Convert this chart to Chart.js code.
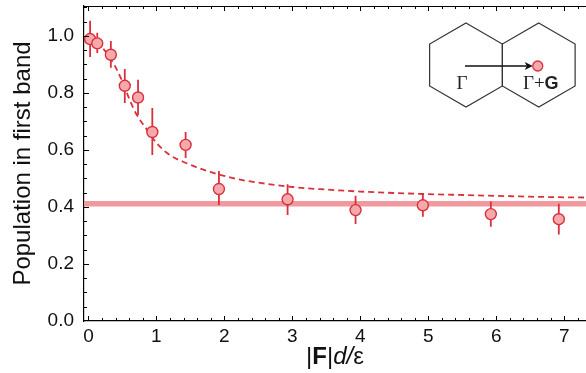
<!DOCTYPE html>
<html>
<head>
<meta charset="utf-8">
<script src="https://cdn.jsdelivr.net/npm/chart.js@4.4.0/dist/chart.umd.min.js"></script>
<style>
  html, body { margin: 0; padding: 0; background: #fff; }
  #wrap { width: 586px; height: 373px; }
</style>
</head>
<body>
<div id="wrap"><canvas id="bandChart" width="586" height="373"></canvas></div>
<script>
const forceVals = [0.025, 0.13, 0.33, 0.535, 0.73, 0.94, 1.43, 1.92, 2.93, 3.93, 4.92, 5.92, 6.92];
const populationVals = [0.989, 0.974, 0.934, 0.825, 0.784, 0.663, 0.618, 0.463, 0.427, 0.389, 0.406, 0.375, 0.357];
const errLow = [0.926, 0.940, 0.888, 0.765, 0.723, 0.582, 0.572, 0.407, 0.372, 0.340, 0.366, 0.331, 0.303];
const errHigh = [1.053, 1.011, 0.982, 0.884, 0.846, 0.747, 0.663, 0.526, 0.480, 0.439, 0.446, 0.419, 0.411];

// dashed theory curve
const fitX = [0, 0.1, 0.2, 0.3, 0.4, 0.5, 0.6, 0.7, 0.85, 1.0, 1.2, 1.45, 1.7, 1.95, 2.25, 2.6, 3.0, 3.5, 4.0, 4.5, 5.0, 5.5, 6.0, 6.5, 7.0, 7.4];
const fitY = [1.0, 0.985, 0.96, 0.93, 0.89, 0.84, 0.78, 0.728, 0.675, 0.625, 0.582, 0.553, 0.530, 0.512, 0.495, 0.482, 0.470, 0.461, 0.454, 0.449, 0.445, 0.442, 0.439, 0.436, 0.434, 0.433];

// thick horizontal level
const plateauX = [-0.2, 7.5];
const plateauY = [0.411, 0.411];

const xTickValues = [0, 1, 2, 3, 4, 5, 6, 7];
const yTickValues = [0, 0.2, 0.4, 0.6, 0.8, 1.0];

const RED = '#d9303c';
const PINK = '#f5a9ad';
const FONT = "'Liberation Sans', Arial, Helvetica, sans-serif";

const pts = forceVals.map((x, i) => ({ x: x, y: populationVals[i] }));
const errSegs = [];
forceVals.forEach((x, i) => {
  errSegs.push({ x: x, y: errLow[i] });
  errSegs.push({ x: x, y: errHigh[i] });
  errSegs.push({ x: x, y: null });
});
const fitPts = fitX.map((x, i) => ({ x: x, y: fitY[i] }));
const plateauPts = plateauX.map((x, i) => ({ x: x, y: plateauY[i] }));

// inward ticks on bottom, top and left + top frame line
const frameTicks = {
  id: 'frameTicks',
  afterDatasetsDraw(chart) {
    const { ctx, chartArea: a, scales: { x, y } } = chart;
    ctx.save();
    ctx.strokeStyle = '#000';
    ctx.lineWidth = 1;
    ctx.beginPath();
    ctx.moveTo(a.left, a.top + 0.5);
    ctx.lineTo(a.right, a.top + 0.5);
    for (let k = 0; k <= 40; k++) {
      const v = k * 0.2;
      const px = Math.round(x.getPixelForValue(v)) + 0.5;
      if (px < a.left || px > a.right) continue;
      const len = (k % 5 === 0) ? 5 : 3;
      ctx.moveTo(px, a.bottom);
      ctx.lineTo(px, a.bottom - len);
      ctx.moveTo(px, a.top);
      ctx.lineTo(px, a.top + len);
    }
    for (let k = 0; k <= 22; k++) {
      const v = k * 0.05;
      const py = Math.round(y.getPixelForValue(v)) + 0.5;
      if (py < a.top || py > a.bottom) continue;
      const len = (k % 4 === 0) ? 5 : 3;
      ctx.moveTo(a.left, py);
      ctx.lineTo(a.left + len, py);
    }
    ctx.stroke();
    ctx.restore();
  }
};

// x axis title with bold F and italic d
const xTitle = {
  id: 'xTitle',
  afterDraw(chart) {
    const { ctx, chartArea: a } = chart;
    const parts = [
      ['|', '24px ' + FONT],
      ['F', 'bold 24px ' + FONT],
      ['|', '24px ' + FONT],
      ['d', 'italic 24px ' + FONT],
      ['/', 'italic 24px ' + FONT],
      ['ε', '24px ' + FONT]
    ];
    ctx.save();
    ctx.fillStyle = '#111';
    ctx.textBaseline = 'alphabetic';
    let total = 0;
    parts.forEach(p => { ctx.font = p[1]; total += ctx.measureText(p[0]).width; });
    let cx = (a.left + a.right) / 2 - total / 2;
    parts.forEach(p => {
      ctx.font = p[1];
      ctx.fillText(p[0], cx, 364);
      cx += ctx.measureText(p[0]).width;
    });
    ctx.restore();
  }
};

// Brillouin zone sketch in the corner
const zoneInset = {
  id: 'zoneInset',
  afterDraw(chart) {
    const { ctx, chartArea: a } = chart;
    const R = 42;
    const hw = R * Math.sqrt(3) / 2;
    const cy = a.top + 59;
    const c1 = a.right - 120;
    const c2 = c1 + 2 * hw;
    ctx.save();
    ctx.strokeStyle = '#333';
    ctx.lineWidth = 1.2;
    [c1, c2].forEach(cx => {
      ctx.beginPath();
      for (let k = 0; k < 6; k++) {
        const ang = -Math.PI / 2 + k * Math.PI / 3;
        const px = cx + R * Math.cos(ang);
        const py = cy + R * Math.sin(ang);
        if (k === 0) ctx.moveTo(px, py); else ctx.lineTo(px, py);
      }
      ctx.closePath();
      ctx.stroke();
    });
    // arrow
    const ay = cy + 1;
    ctx.strokeStyle = '#111';
    ctx.fillStyle = '#111';
    ctx.lineWidth = 1.3;
    ctx.beginPath();
    ctx.moveTo(c1 - 1, ay);
    ctx.lineTo(c2 - 12, ay);
    ctx.stroke();
    ctx.beginPath();
    ctx.moveTo(c2 - 6, ay);
    ctx.lineTo(c2 - 14, ay - 4);
    ctx.lineTo(c2 - 12, ay);
    ctx.lineTo(c2 - 14, ay + 4);
    ctx.closePath();
    ctx.fill();
    // dot
    ctx.beginPath();
    ctx.arc(c2 - 1, ay, 5, 0, Math.PI * 2);
    ctx.fillStyle = PINK;
    ctx.fill();
    ctx.strokeStyle = RED;
    ctx.lineWidth = 1.3;
    ctx.stroke();
    // labels
    ctx.fillStyle = '#222';
    ctx.textBaseline = 'alphabetic';
    ctx.textAlign = 'center';
    ctx.font = "19px 'Liberation Serif', 'DejaVu Serif', serif";
    ctx.fillText('Γ', c1 - 4, cy + 24);
    ctx.textAlign = 'left';
    const serif = "19px 'Liberation Serif', 'DejaVu Serif', serif";
    const bold = 'bold 18px ' + FONT;
    ctx.font = serif;
    const w1 = ctx.measureText('Γ+').width;
    ctx.font = bold;
    const w2 = ctx.measureText('G').width;
    let lx = c2 + 2 - (w1 + w2) / 2;
    ctx.font = serif;
    ctx.fillText('Γ+', lx, cy + 24);
    ctx.font = bold;
    ctx.fillText('G', lx + w1, cy + 24);
    ctx.restore();
  }
};

new Chart(document.getElementById('bandChart'), {
  type: 'scatter',
  data: {
    datasets: [
      {
        label: 'data',
        data: pts,
        order: 0,
        pointRadius: 5.5,
        pointHoverRadius: 5.5,
        pointBackgroundColor: PINK,
        pointBorderColor: RED,
        pointBorderWidth: 1.4,
        showLine: false
      },
      {
        type: 'line',
        label: 'errors',
        data: errSegs,
        order: 1,
        borderColor: RED,
        borderWidth: 1.8,
        pointRadius: 0,
        spanGaps: false,
        tension: 0
      },
      {
        type: 'line',
        label: 'fit',
        data: fitPts,
        order: 2,
        borderColor: RED,
        borderWidth: 1.8,
        borderDash: [6, 4],
        pointRadius: 0,
        tension: 0.35,
        cubicInterpolationMode: 'monotone'
      },
      {
        type: 'line',
        label: 'level',
        data: plateauPts,
        order: 3,
        borderColor: '#f0999e',
        borderWidth: 5.5,
        pointRadius: 0
      }
    ]
  },
  options: {
    responsive: false,
    animation: false,
    devicePixelRatio: 1,
    layout: { autoPadding: false, padding: { top: 6, right: 0, left: 0, bottom: 0 } },
    plugins: {
      legend: { display: false },
      tooltip: { enabled: false }
    },
    scales: {
      x: {
        type: 'linear',
        min: -0.065,
        max: 7.32,
        grid: { display: false, drawTicks: false },
        border: { display: true, color: '#000', width: 1.2 },
        afterBuildTicks: s => { s.ticks = xTickValues.map(v => ({ value: v })); },
        afterFit: s => { s.height = 52; s.paddingLeft = 0; s.paddingRight = 0; },
        ticks: {
          color: '#111',
          padding: 4,
          maxRotation: 0,
          font: { family: FONT, size: 19 },
          callback: v => String(v)
        }
      },
      y: {
        type: 'linear',
        min: 0,
        max: 1.105,
        grid: { display: false, drawTicks: false },
        border: { display: true, color: '#000', width: 1.2 },
        afterBuildTicks: s => { s.ticks = yTickValues.map(v => ({ value: v })); },
        afterFit: s => { s.width = 84; s.paddingTop = 0; s.paddingBottom = 0; },
        ticks: {
          color: '#111',
          padding: 10,
          font: { family: FONT, size: 19 },
          callback: v => Number(v).toFixed(1)
        },
        title: {
          display: true,
          text: 'Population in first band',
          color: '#111',
          padding: { top: 9, bottom: 0 },
          font: { family: FONT, size: 24 }
        }
      }
    }
  },
  plugins: [frameTicks, xTitle, zoneInset]
});
</script>
</body>
</html>
